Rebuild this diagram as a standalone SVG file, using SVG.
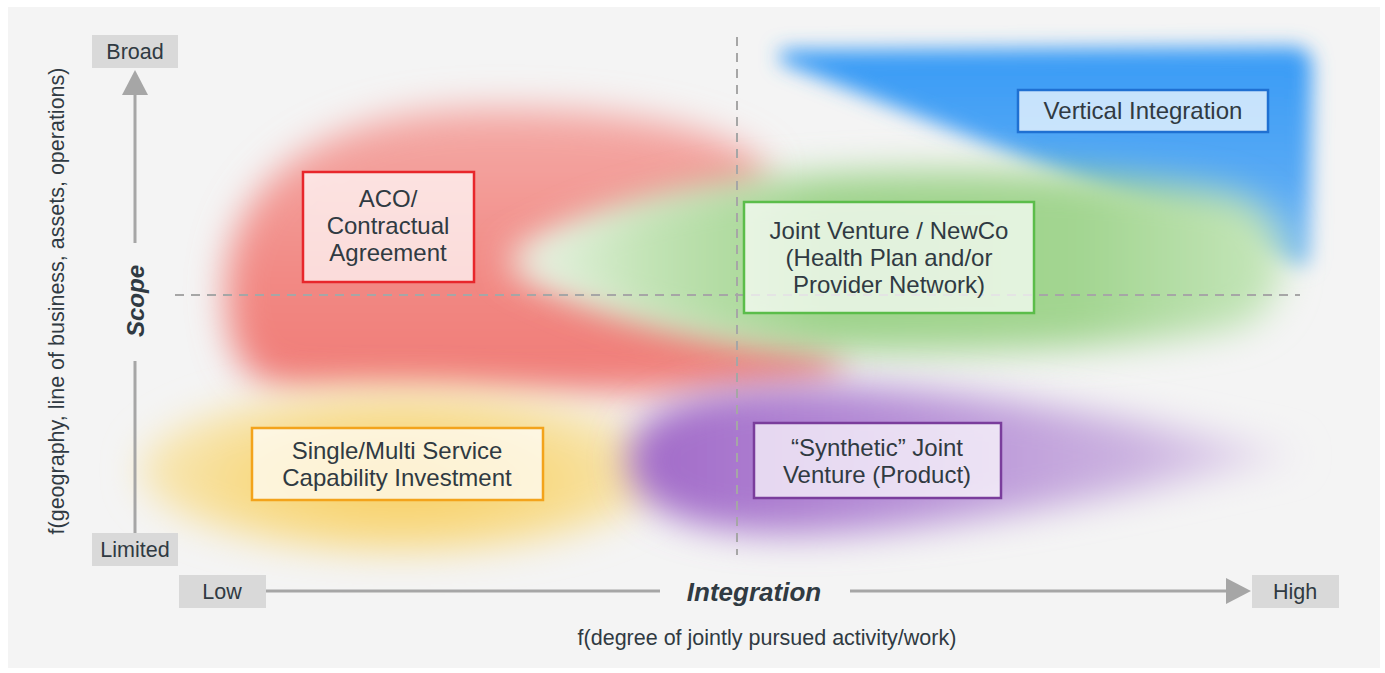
<svg xmlns="http://www.w3.org/2000/svg" width="1385" height="673" viewBox="0 0 1385 673">
  <style>
    .lbl { font-family: "Liberation Sans", Arial, sans-serif; fill: #303a42; }
    .node-text { font-size: 24px; text-anchor: middle; }
    .axis-text { font-size: 21.5px; text-anchor: middle; }
    .axis-title { font-weight: bold; font-style: italic; text-anchor: middle; }
    .axis-box { fill: #d9d9d9; }
    .axis-line { stroke: #a6a6a6; stroke-width: 3; fill: none; }
    .axis-head { fill: #a6a6a6; }
    .grid { stroke: #a6a6a6; stroke-width: 2; stroke-dasharray: 9 7; fill: none; }
    .box { fill: #ffffff; fill-opacity: 0.7; stroke-width: 2.5; }
  </style>
  <defs>
    <filter id="soft" x="-30%" y="-40%" width="160%" height="180%">
      <feGaussianBlur stdDeviation="18"/>
    </filter>
    <filter id="softBlue" x="-20%" y="-30%" width="140%" height="160%">
      <feGaussianBlur stdDeviation="10"/>
    </filter>
    <linearGradient id="gRed" x1="0" y1="110" x2="0" y2="390" gradientUnits="userSpaceOnUse">
      <stop offset="0" stop-color="#f4aba7"/>
      <stop offset="0.6" stop-color="#f28984"/>
      <stop offset="1" stop-color="#f07b76"/>
    </linearGradient>
    <linearGradient id="gGreen" x1="505" y1="0" x2="1300" y2="0" gradientUnits="userSpaceOnUse">
      <stop offset="0" stop-color="#eef6ea"/>
      <stop offset="0.18" stop-color="#c2e3b5"/>
      <stop offset="0.4" stop-color="#9ed38b"/>
      <stop offset="0.72" stop-color="#a2d590"/>
      <stop offset="1" stop-color="#cae8c0"/>
    </linearGradient>
    <linearGradient id="gPurple" x1="630" y1="0" x2="1300" y2="0" gradientUnits="userSpaceOnUse">
      <stop offset="0" stop-color="#a169c8"/>
      <stop offset="0.35" stop-color="#b38ad5"/>
      <stop offset="0.75" stop-color="#cbb2e0"/>
      <stop offset="1" stop-color="#ebe3f1"/>
    </linearGradient>
    <radialGradient id="gYellow" cx="400" cy="480" r="265" gradientUnits="userSpaceOnUse" gradientTransform="translate(400 480) scale(1 0.35) translate(-400 -480)">
      <stop offset="0" stop-color="#f9cf62"/>
      <stop offset="0.6" stop-color="#f8db88"/>
      <stop offset="1" stop-color="#f7e8bb"/>
    </radialGradient>
    <linearGradient id="gBlue" x1="0" y1="50" x2="0" y2="265" gradientUnits="userSpaceOnUse">
      <stop offset="0" stop-color="#389bf6"/>
      <stop offset="0.6" stop-color="#57a9f4"/>
      <stop offset="1" stop-color="#86c1f2"/>
    </linearGradient>
  </defs>

  <!-- page and panel -->
  <rect x="0" y="0" width="1385" height="673" fill="#ffffff"/>
  <rect x="8" y="7" width="1372" height="661" fill="#f4f4f4"/>

  <!-- soft coloured regions -->
  <g id="regions">
    <path d="M 780,50 L 1292,47 Q 1312,47 1312,66 L 1310,256 Q 1308,272 1290,263 L 780,62 Z" fill="url(#gBlue)" filter="url(#softBlue)"/>
    <path d="M 226,300 C 220,185 320,110 480,108 C 600,106 705,122 757,158 C 777,176 765,194 738,198 C 640,208 560,232 515,262 C 580,300 700,328 805,344 C 852,352 856,376 812,382 C 700,396 450,394 300,390 C 240,387 229,350 226,300 Z" fill="url(#gRed)" filter="url(#soft)"/>
    <path d="M 505,262 C 560,225 650,193 760,180 C 900,166 1100,168 1230,193 C 1294,208 1304,302 1240,327 C 1120,352 900,356 790,348 C 680,338 570,300 505,262 Z" fill="url(#gGreen)" filter="url(#soft)"/>
    <ellipse cx="402" cy="470" rx="262" ry="82" fill="url(#gYellow)" filter="url(#soft)"/>
    <path d="M 628,460 C 628,410 700,388 800,386 C 950,383 1150,420 1302,455 C 1150,490 950,532 800,534 C 700,534 628,512 628,460 Z" fill="url(#gPurple)" filter="url(#soft)"/>
  </g>

  <!-- quadrant dividers -->
  <g id="dividers">
    <line class="grid" x1="737" y1="37" x2="737" y2="555"/>
    <line class="grid" x1="175" y1="295" x2="1300" y2="295"/>
  </g>

  <!-- axes -->
  <g id="axes">
    <line class="axis-line" x1="135" y1="243" x2="135" y2="94"/>
    <polygon class="axis-head" points="122,95 135,70 148,95"/>
    <line class="axis-line" x1="135" y1="361" x2="135" y2="533"/>
    <line class="axis-line" x1="266" y1="591" x2="660" y2="591"/>
    <line class="axis-line" x1="850" y1="591" x2="1228" y2="591"/>
    <polygon class="axis-head" points="1226,578 1251,591 1226,604"/>
  </g>

  <g id="axis-broad">
    <rect class="axis-box" x="92" y="35" width="86" height="33"/>
    <text class="lbl axis-text" x="135" y="59">Broad</text>
  </g>
  <g id="axis-limited">
    <rect class="axis-box" x="92" y="533" width="86" height="33"/>
    <text class="lbl axis-text" x="135" y="557">Limited</text>
  </g>
  <g id="axis-low">
    <rect class="axis-box" x="179" y="575" width="87" height="33"/>
    <text class="lbl axis-text" x="222" y="599">Low</text>
  </g>
  <g id="axis-high">
    <rect class="axis-box" x="1252" y="575" width="87" height="33"/>
    <text class="lbl axis-text" x="1295" y="599">High</text>
  </g>
  <g id="axis-titles">
    <text class="lbl axis-title" font-size="24" transform="translate(144 301) rotate(-90)">Scope</text>
    <text class="lbl axis-title" font-size="26" x="754" y="601">Integration</text>
    <text class="lbl axis-text" transform="translate(64 301) rotate(-90)">f(geography, line of business, assets, operations)</text>
    <text class="lbl axis-text" x="767" y="645">f(degree of jointly pursued activity/work)</text>
  </g>

  <!-- arrangement types -->
  <g id="node-vertical">
    <rect class="box" x="1018" y="90" width="250" height="42" stroke="#1f70d2"/>
    <text class="lbl node-text" x="1143" y="119">Vertical Integration</text>
  </g>
  <g id="node-aco">
    <rect class="box" x="303" y="172" width="171" height="110" stroke="#e8262b"/>
    <text class="lbl node-text" x="388" y="207">ACO/</text>
    <text class="lbl node-text" x="388" y="234">Contractual</text>
    <text class="lbl node-text" x="388" y="261">Agreement</text>
  </g>
  <g id="node-jv">
    <rect class="box" x="744" y="202" width="290" height="111" stroke="#5bbd4a"/>
    <text class="lbl node-text" x="889" y="239">Joint Venture / NewCo</text>
    <text class="lbl node-text" x="889" y="266">(Health Plan and/or</text>
    <text class="lbl node-text" x="889" y="293">Provider Network)</text>
  </g>
  <g id="node-capability">
    <rect class="box" x="252" y="428" width="291" height="72" stroke="#f3a31b"/>
    <text class="lbl node-text" x="397" y="459">Single/Multi Service</text>
    <text class="lbl node-text" x="397" y="486">Capability Investment</text>
  </g>
  <g id="node-synthetic">
    <rect class="box" x="754" y="423" width="247" height="75" stroke="#7a3d9c"/>
    <text class="lbl node-text" x="877" y="456">“Synthetic” Joint</text>
    <text class="lbl node-text" x="877" y="483">Venture (Product)</text>
  </g>
</svg>
